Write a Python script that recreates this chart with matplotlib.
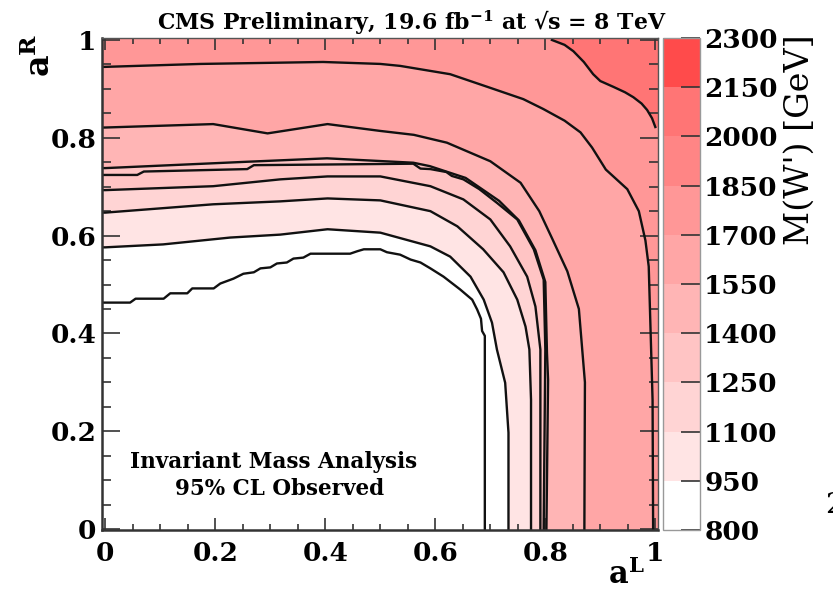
import matplotlib.pyplot as plt
from matplotlib.colors import ListedColormap, BoundaryNorm
from matplotlib.cm import ScalarMappable
from matplotlib.ticker import MultipleLocator, FuncFormatter

plt.rcParams['font.family'] = ['DejaVu Serif']
plt.rcParams['font.weight'] = 'bold'
plt.rcParams['mathtext.fontset'] = 'custom'
plt.rcParams['mathtext.rm'] = 'DejaVu Serif:bold'
plt.rcParams['mathtext.it'] = 'DejaVu Serif:bold'
plt.rcParams['mathtext.bf'] = 'DejaVu Serif:bold'

# M(W') colour scale [GeV]
mass_levels = [800, 950, 1100, 1250, 1400, 1550, 1700, 1850, 2000, 2150, 2300]
band_colors = ['#ffffff', '#ffe4e4', '#ffd4d4', '#ffc4c4', '#ffb5b5',
               '#ffa6a6', '#ff9797', '#ff8585', '#ff7575', '#ff4b4b']

# observed 95% CL mass contours in the (aL, aR) plane
aL_950 = [0.0, 0.045, 0.055, 0.106, 0.118, 0.149, 0.158, 0.197, 0.209, 0.233,
          0.251, 0.270, 0.282, 0.300, 0.312, 0.330, 0.342, 0.360, 0.373, 0.445,
          0.458, 0.470, 0.500, 0.512, 0.536, 0.555, 0.573, 0.591, 0.615, 0.645,
          0.667, 0.676, 0.683, 0.685, 0.690, 0.690]
aR_950 = [0.463, 0.463, 0.471, 0.471, 0.482, 0.482, 0.492, 0.492, 0.502, 0.512,
          0.522, 0.525, 0.533, 0.535, 0.543, 0.545, 0.553, 0.555, 0.563, 0.563,
          0.568, 0.572, 0.572, 0.566, 0.561, 0.551, 0.545, 0.533, 0.516, 0.490,
          0.469, 0.449, 0.430, 0.405, 0.395, 0.0]

aL_1100 = [0.0, 0.105, 0.227, 0.318, 0.404, 0.500, 0.591, 0.627, 0.664, 0.688,
           0.703, 0.712, 0.727, 0.733, 0.733]
aR_1100 = [0.576, 0.582, 0.596, 0.602, 0.613, 0.606, 0.578, 0.557, 0.516, 0.469,
           0.422, 0.367, 0.299, 0.197, 0.0]

aL_1250 = [0.0, 0.196, 0.318, 0.404, 0.500, 0.591, 0.640, 0.687, 0.724, 0.749,
           0.764, 0.771, 0.774, 0.774]
aR_1250 = [0.647, 0.664, 0.670, 0.676, 0.672, 0.650, 0.619, 0.572, 0.525, 0.469,
           0.414, 0.367, 0.264, 0.0]

aL_1400 = [0.0, 0.196, 0.318, 0.404, 0.500, 0.591, 0.651, 0.700, 0.736, 0.767,
           0.782, 0.791, 0.791]
aR_1400 = [0.693, 0.701, 0.715, 0.721, 0.721, 0.701, 0.674, 0.633, 0.578, 0.516,
           0.455, 0.367, 0.0]

aL_1550 = [0.0, 0.058, 0.070, 0.258, 0.270, 0.560, 0.573, 0.591, 0.620, 0.630,
           0.651, 0.680, 0.712, 0.749, 0.779, 0.797, 0.800, 0.797]
aR_1550 = [0.724, 0.724, 0.731, 0.736, 0.744, 0.747, 0.737, 0.736, 0.730, 0.722,
           0.715, 0.695, 0.667, 0.633, 0.572, 0.510, 0.367, 0.0]

aL_1700 = [0.0, 0.258, 0.403, 0.560, 0.590, 0.655, 0.716, 0.752, 0.782, 0.800,
           0.803, 0.805, 0.802]
aR_1700 = [0.738, 0.751, 0.758, 0.749, 0.742, 0.718, 0.671, 0.631, 0.570, 0.505,
           0.360, 0.305, 0.0]

aL_1850 = [0.0, 0.196, 0.295, 0.404, 0.500, 0.561, 0.621, 0.700, 0.755, 0.789,
           0.812, 0.840, 0.861, 0.872, 0.871]
aR_1850 = [0.821, 0.828, 0.809, 0.828, 0.814, 0.806, 0.790, 0.752, 0.708, 0.650,
           0.595, 0.527, 0.450, 0.300, 0.0]

aL_2000 = [0.0, 0.173, 0.396, 0.500, 0.536, 0.627, 0.695, 0.760, 0.796, 0.835,
           0.864, 0.885, 0.910, 0.949, 0.970, 0.982, 0.988, 0.995, 0.996]
aR_2000 = [0.945, 0.951, 0.955, 0.951, 0.947, 0.930, 0.904, 0.879, 0.859, 0.835,
           0.811, 0.780, 0.735, 0.695, 0.650, 0.590, 0.537, 0.264, 0.0]

aL_2150 = [0.812, 0.835, 0.851, 0.870, 0.887, 0.900, 0.924, 0.945, 0.960, 0.975,
           0.985, 0.994, 1.0]
aR_2150 = [1.0, 0.990, 0.977, 0.955, 0.930, 0.916, 0.904, 0.893, 0.883, 0.870,
           0.857, 0.840, 0.822]

XLIM = (-0.006, 1.005)
YLIM = (-0.002, 1.004)


def below(aL, aR):
    """Polygon of the region under a contour that runs from the left edge to the bottom edge"""
    xs = [XLIM[0]] + aL + [aL[-1], XLIM[0]]
    ys = [aR[0]] + aR + [YLIM[0], YLIM[0]]
    return xs, ys


def corner(aL, aR):
    """Polygon of the region beyond a contour that runs from the top edge to the right edge"""
    xs = [aL[0]] + aL + [XLIM[1], XLIM[1]]
    ys = [YLIM[1]] + aR + [aR[-1], YLIM[1]]
    return xs, ys


fig = plt.figure(figsize=(8.33, 5.93), dpi=100)
ax = fig.add_axes([0.1225, 0.1062, 0.6675, 0.8297])
cax = fig.add_axes([0.7959, 0.1062, 0.0444, 0.8297])

# bands, painted from the outside in
ax.set_facecolor(band_colors[6])
fills = [((aL_2000, aR_2000), 5), ((aL_1850, aR_1850), 4), ((aL_1700, aR_1700), 3),
         ((aL_1400, aR_1400), 2), ((aL_1250, aR_1250), 1), ((aL_1100, aR_1100), 0)]
for (xs, ys), idx in fills:
    px, py = below(xs, ys)
    ax.fill(px, py, color=band_colors[idx], lw=0)
px, py = corner(aL_2150, aR_2150)
ax.fill(px, py, color=band_colors[8], lw=0)

# contour lines
for xs, ys in [(aL_950, aR_950), (aL_1100, aR_1100), (aL_1250, aR_1250),
               (aL_1400, aR_1400), (aL_1550, aR_1550), (aL_1700, aR_1700),
               (aL_1850, aR_1850), (aL_2000, aR_2000)]:
    ax.plot([XLIM[0]] + xs + [xs[-1]], [ys[0]] + ys + [YLIM[0]], color='#111111', lw=1.7)
ax.plot(aL_2150, aR_2150, color='#111111', lw=1.7)

ax.set_xlim(*XLIM)
ax.set_ylim(*YLIM)
fmt = FuncFormatter(lambda v, pos: '%g' % round(v, 2))
for axis in (ax.xaxis, ax.yaxis):
    axis.set_major_locator(MultipleLocator(0.2))
    axis.set_minor_locator(MultipleLocator(0.05))
    axis.set_major_formatter(fmt)
ax.tick_params(which='both', direction='in', top=True, right=True, color='#333333', width=1.2,
               labelsize=19)
ax.tick_params(axis='x', which='major', length=8.5, pad=8)
ax.tick_params(axis='x', which='minor', length=4)
ax.tick_params(axis='y', which='major', length=13, pad=4)
ax.tick_params(axis='y', which='minor', length=6.5)
for side in ('left', 'bottom'):
    ax.spines[side].set_linewidth(1.8)
    ax.spines[side].set_color('#333333')
for side in ('top', 'right'):
    ax.spines[side].set_linewidth(1.0)
    ax.spines[side].set_color('#555555')

ax.text(0.305, 0.137, 'Invariant Mass Analysis', ha='center', va='center', fontsize=15.5)
ax.text(0.317, 0.082, '95% CL Observed', ha='center', va='center', fontsize=15.5)

# colour scale
cmap = ListedColormap(band_colors)
norm = BoundaryNorm(mass_levels, cmap.N)
cb = fig.colorbar(ScalarMappable(norm=norm, cmap=cmap), cax=cax, ticks=mass_levels)
cb.outline.set_edgecolor('#999999')
cb.outline.set_linewidth(1.0)
cax.tick_params(direction='in', length=14, width=1.2, color='#333333', labelsize=19, pad=3)
cax.minorticks_off()

fig.text(0.494, 1 - 30 / 593, 'CMS Preliminary, 19.6 fb$^{-1}$ at \u221as = 8 TeV',
         ha='center', va='baseline', fontsize=15.8)
fig.text(40 / 833, 1 - 55 / 593, 'a$^{\\mathrm{R}}$', rotation=90, ha='center', va='center', fontsize=24)
fig.text(626 / 833, 1 - 575 / 593, 'a$^{\\mathrm{L}}$', ha='center', va='center', fontsize=22)
fig.text(800 / 833, 1 - 140 / 593, "M(W') [GeV]", rotation=90, ha='center', va='center',
         fontsize=24, fontweight='normal')
fig.text(825 / 833, 1 - 513 / 593, '2', ha='left', va='baseline', fontsize=20, fontweight='normal')

fig.savefig('out.png', dpi=100)
